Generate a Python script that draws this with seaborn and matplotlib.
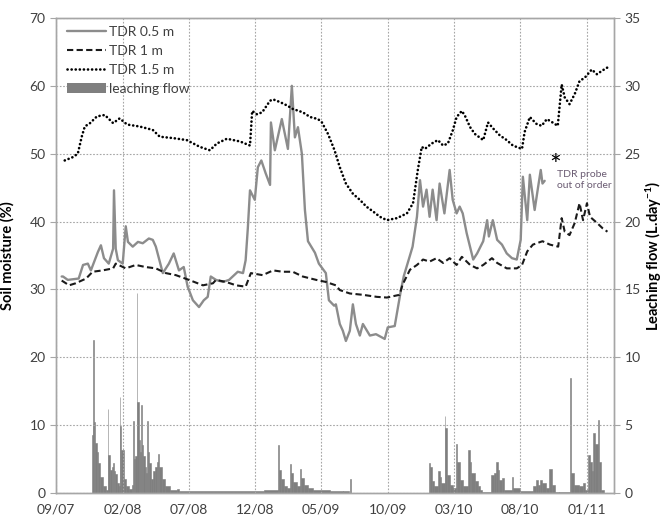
import numpy as np
import pandas as pd
import matplotlib
matplotlib.use('Agg')
import matplotlib.pyplot as plt
import matplotlib.dates as mdates
from matplotlib.lines import Line2D
from matplotlib.patches import Patch
import seaborn as sns

# ---- data ----
# TDR 0.5 m (soil moisture %)
tdr05_dates = ['2007-09-14', '2007-09-17', '2007-09-28', '2007-10-23', '2007-11-02', '2007-11-13',
               '2007-11-20', '2007-12-06', '2007-12-13', '2007-12-20', '2007-12-31', '2008-01-10',
               '2008-01-12', '2008-01-16', '2008-01-21', '2008-02-01', '2008-02-08', '2008-02-13',
               '2008-02-24', '2008-03-07', '2008-03-18', '2008-04-01', '2008-04-10', '2008-04-17',
               '2008-05-03', '2008-05-17', '2008-05-28', '2008-06-09', '2008-06-20', '2008-06-29',
               '2008-07-11', '2008-07-25', '2008-08-05', '2008-08-14', '2008-08-21', '2008-09-02',
               '2008-09-18', '2008-10-02', '2008-10-22', '2008-11-03', '2008-11-09', '2008-11-14',
               '2008-11-19', '2008-11-30', '2008-12-07', '2008-12-15', '2008-12-25', '2009-01-04',
               '2009-01-06', '2009-01-15', '2009-01-31', '2009-02-14', '2009-02-23', '2009-03-02',
               '2009-03-09', '2009-03-18', '2009-03-25', '2009-04-01', '2009-04-17', '2009-04-26',
               '2009-05-12', '2009-05-19', '2009-05-31', '2009-06-04', '2009-06-13', '2009-06-20',
               '2009-06-27', '2009-07-06', '2009-07-13', '2009-07-20', '2009-07-29', '2009-08-05',
               '2009-08-21', '2009-09-04', '2009-09-24', '2009-10-01', '2009-10-17', '2009-10-31',
               '2009-11-07', '2009-11-21', '2009-11-27', '2009-12-07', '2009-12-14', '2009-12-21',
               '2009-12-29', '2010-01-05', '2010-01-12', '2010-01-21', '2010-01-28', '2010-02-08',
               '2010-02-20', '2010-02-27', '2010-03-08', '2010-03-15', '2010-03-22', '2010-03-31',
               '2010-04-15', '2010-04-24', '2010-05-08', '2010-05-17', '2010-05-21', '2010-05-30',
               '2010-06-09', '2010-06-20', '2010-07-01', '2010-07-13', '2010-07-24', '2010-08-02',
               '2010-08-07', '2010-08-17', '2010-08-23', '2010-09-03', '2010-09-10', '2010-09-17',
               '2010-09-21', '2010-09-26']
tdr05_vals = [31.9, 31.9, 31.4, 31.6, 33.6, 33.8,
              32.8, 35.5, 36.5, 34.6, 33.8, 36.0,
              44.6, 36.0, 34.3, 33.8, 39.3, 37.0,
              36.3, 37.0, 36.8, 37.5, 37.3, 36.3,
              32.4, 33.8, 35.3, 32.8, 33.3, 30.4,
              28.4, 27.4, 28.4, 28.9, 31.9, 31.4,
              31.1, 31.4, 32.6, 32.4, 34.3, 39.0,
              44.6, 43.2, 48.0, 49.0, 47.1, 45.4,
              54.6, 50.5, 55.1, 50.7, 60.0, 52.4,
              53.9, 50.0, 41.7, 37.1, 35.4, 33.8,
              32.4, 28.4, 27.6, 27.8, 24.9, 23.9,
              22.4, 23.9, 27.8, 24.9, 23.2, 24.9,
              23.2, 23.4, 22.7, 24.4, 24.6, 29.8,
              32.0, 35.0, 36.3, 40.7, 46.1, 42.2,
              44.7, 40.7, 44.7, 40.2, 45.6, 41.2,
              47.6, 43.2, 41.2, 42.2, 41.2, 38.3,
              34.4, 35.3, 37.1, 40.2, 37.8, 40.2,
              37.3, 36.6, 35.3, 34.6, 34.4, 37.3,
              46.6, 40.2, 46.9, 41.7, 44.7, 47.6,
              45.6, 46.0]

# TDR 1 m
tdr1_dates = ['2007-09-14', '2007-09-19', '2007-10-01', '2007-10-16', '2007-11-09', '2007-11-24',
              '2007-12-17', '2008-01-10', '2008-01-16', '2008-02-08', '2008-03-02', '2008-03-24',
              '2008-04-17', '2008-05-10', '2008-06-02', '2008-07-02', '2008-08-03', '2008-08-26',
              '2008-09-02', '2008-09-25', '2008-10-18', '2008-11-09', '2008-11-21', '2008-12-18',
              '2009-01-11', '2009-02-02', '2009-02-25', '2009-03-20', '2009-04-20', '2009-05-12',
              '2009-06-04', '2009-06-13', '2009-07-06', '2009-08-05', '2009-09-06', '2009-09-29',
              '2009-10-28', '2009-11-04', '2009-11-21', '2009-12-07', '2009-12-21', '2010-01-05',
              '2010-01-21', '2010-02-05', '2010-02-20', '2010-03-08', '2010-03-20', '2010-04-08',
              '2010-04-24', '2010-05-08', '2010-05-28', '2010-06-09', '2010-07-01', '2010-07-24',
              '2010-08-05', '2010-08-17', '2010-08-30', '2010-09-21', '2010-10-08', '2010-10-27',
              '2010-11-04', '2010-11-11', '2010-11-22', '2010-12-04', '2010-12-15', '2010-12-23',
              '2011-01-01', '2011-01-08', '2011-01-24', '2011-02-06', '2011-02-17']
tdr1_vals = [31.3, 31.1, 30.6, 30.9, 31.6, 32.6,
             32.8, 33.1, 33.8, 33.1, 33.6, 33.3,
             33.1, 32.4, 32.1, 31.4, 30.6, 30.9,
             31.4, 31.1, 30.6, 30.4, 32.4, 32.1,
             32.8, 32.6, 32.6, 31.9, 31.4, 31.1,
             30.6, 29.9, 29.4, 29.2, 28.9, 28.8,
             29.2, 30.7, 32.9, 33.6, 34.4, 34.1,
             34.6, 33.9, 34.6, 33.6, 34.8, 33.6,
             33.1, 33.6, 34.6, 33.9, 33.1, 33.1,
             33.6, 35.6, 36.6, 37.1, 36.6, 36.3,
             40.5, 38.5, 38.0, 39.8, 42.7, 40.2,
             42.7, 40.7, 39.8, 39.0, 38.5]

# TDR 1.5 m
tdr15_dates = ['2007-09-21', '2007-10-10', '2007-10-21', '2007-10-30', '2007-11-06', '2007-11-18',
               '2007-12-04', '2007-12-22', '2008-01-10', '2008-01-25', '2008-02-11', '2008-03-11',
               '2008-04-10', '2008-04-26', '2008-05-26', '2008-06-27', '2008-07-27', '2008-08-19',
               '2008-09-04', '2008-09-27', '2008-10-27', '2008-11-19', '2008-11-24', '2008-12-05',
               '2008-12-17', '2009-01-04', '2009-01-11', '2009-01-27', '2009-02-12', '2009-02-25',
               '2009-03-20', '2009-04-06', '2009-04-24', '2009-05-03', '2009-05-17', '2009-06-01',
               '2009-06-13', '2009-06-27', '2009-07-13', '2009-07-29', '2009-08-13', '2009-08-28',
               '2009-09-13', '2009-09-29', '2009-10-22', '2009-11-14', '2009-11-28', '2009-12-09',
               '2009-12-18', '2009-12-25', '2010-01-10', '2010-01-24', '2010-02-05', '2010-02-16',
               '2010-02-27', '2010-03-08', '2010-03-20', '2010-03-27', '2010-04-08', '2010-04-19',
               '2010-05-08', '2010-05-19', '2010-05-31', '2010-06-15', '2010-07-01', '2010-07-15',
               '2010-08-05', '2010-08-11', '2010-08-23', '2010-09-07', '2010-09-19', '2010-10-01',
               '2010-10-14', '2010-10-26', '2010-11-04', '2010-11-11', '2010-11-22', '2010-12-04',
               '2010-12-15', '2010-12-27', '2011-01-12', '2011-01-24', '2011-02-04', '2011-02-17']
tdr15_vals = [49.0, 49.5, 50.0, 52.5, 54.0, 54.5,
              55.5, 55.7, 54.5, 55.2, 54.3, 54.0,
              53.5, 52.5, 52.3, 52.0, 51.0, 50.5,
              51.5, 52.2, 51.8, 51.2, 56.3, 55.8,
              56.1, 57.8, 58.0, 57.6, 57.1, 56.6,
              56.1, 55.4, 55.1, 54.6, 52.9, 50.5,
              48.0, 45.6, 44.1, 43.2, 42.2, 41.5,
              40.7, 40.2, 40.5, 41.2, 42.7, 47.6,
              51.0, 50.7, 51.5, 52.0, 51.2, 51.5,
              53.4, 55.4, 56.3, 55.6, 53.9, 52.9,
              52.0, 54.6, 53.7, 52.7, 52.0, 51.2,
              50.7, 53.2, 55.4, 54.4, 54.1, 55.1,
              54.6, 54.1, 60.2, 58.3, 57.3, 58.8,
              60.7, 61.2, 62.4, 61.7, 62.2, 62.7]

# leaching flow (L.day-1); each value holds until the next date
flow_dates = ['2007-11-21', '2007-11-23', '2007-11-25', '2007-11-26', '2007-11-27', '2007-11-29',
              '2007-12-03', '2007-12-06', '2007-12-10', '2007-12-17', '2007-12-24', '2007-12-29',
              '2007-12-30', '2008-01-02', '2008-01-07', '2008-01-10', '2008-01-12', '2008-01-14',
              '2008-01-19', '2008-01-23', '2008-01-25', '2008-01-26', '2008-01-29', '2008-02-03',
              '2008-02-09', '2008-02-16', '2008-02-22', '2008-02-25', '2008-02-26', '2008-02-29',
              '2008-03-04', '2008-03-05', '2008-03-09', '2008-03-12', '2008-03-15', '2008-03-16',
              '2008-03-19', '2008-03-23', '2008-03-26', '2008-03-28', '2008-03-29', '2008-04-01',
              '2008-04-05', '2008-04-11', '2008-04-16', '2008-04-20', '2008-04-22', '2008-04-24',
              '2008-05-02', '2008-05-08', '2008-05-19', '2008-06-04', '2008-06-08', '2008-12-20',
              '2009-01-23', '2009-01-25', '2009-01-28', '2009-02-04', '2009-02-11', '2009-02-18',
              '2009-02-22', '2009-02-26', '2009-03-06', '2009-03-13', '2009-03-17', '2009-03-22',
              '2009-04-01', '2009-04-12', '2009-05-21', '2009-06-20', '2009-07-03', '2009-07-07',
              '2009-07-08', '2010-01-03', '2010-01-07', '2010-01-11', '2010-01-16', '2010-01-24',
              '2010-01-28', '2010-02-01', '2010-02-09', '2010-02-10', '2010-02-13', '2010-02-20',
              '2010-02-28', '2010-03-06', '2010-03-08', '2010-03-15', '2010-03-23', '2010-04-04',
              '2010-04-07', '2010-04-11', '2010-04-19', '2010-04-26', '2010-04-30', '2010-05-05',
              '2010-05-27', '2010-06-01', '2010-06-07', '2010-06-10', '2010-06-14', '2010-06-21',
              '2010-06-25', '2010-07-14', '2010-07-16', '2010-07-31', '2010-08-30', '2010-09-06',
              '2010-09-10', '2010-09-15', '2010-09-21', '2010-09-28', '2010-10-06', '2010-10-13',
              '2010-10-20', '2010-10-30', '2010-11-24', '2010-11-25', '2010-12-03', '2010-12-14',
              '2010-12-22', '2010-12-27', '2011-01-04', '2011-01-08', '2011-01-12', '2011-01-15',
              '2011-01-19', '2011-01-27', '2011-01-29', '2011-02-02', '2011-02-10']
flow_vals = [0.0, 4.3, 5.1, 11.3, 5.2, 3.7,
             3.0, 2.2, 1.2, 0.5, 0.25, 6.2,
             2.8, 1.7, 1.9, 2.2, 1.6, 1.4,
             0.7, 0.5, 7.1, 4.9, 3.2, 1.0,
             0.5, 0.3, 0.6, 5.3, 2.5, 2.7,
             14.7, 6.7, 3.9, 3.0, 6.5, 3.5,
             2.7, 1.9, 1.5, 5.3, 3.0, 2.2,
             1.0, 1.6, 1.9, 2.3, 2.9, 1.9,
             1.0, 0.5, 0.2, 0.3, 0.12, 0.2,
             3.5, 1.7, 1.0, 0.5, 0.35, 2.1,
             1.5, 0.8, 0.5, 1.8, 1.1, 0.6,
             0.35, 0.2, 0.17, 0.15, 0.0, 1.0,
             0.0, 2.2, 1.95, 0.85, 0.5, 1.6,
             1.2, 0.7, 5.7, 4.8, 1.3, 0.6,
             0.35, 3.6, 2.3, 0.95, 0.5, 3.2,
             2.3, 1.5, 0.85, 0.5, 0.2, 0.08,
             1.3, 1.5, 2.3, 1.7, 0.95, 1.1,
             0.2, 1.2, 0.35, 0.15, 0.5, 0.95,
             0.6, 0.95, 0.7, 0.35, 1.8, 0.6,
             0.1, 0.05, 8.5, 1.45, 0.6, 0.5,
             0.7, 0.2, 2.8, 2.3, 1.6, 4.4,
             3.6, 5.4, 2.3, 0.2, 0.0]

tick_dates = pd.date_range('2007-09-01', '2011-01-01', freq='5MS')

# ---- style ----
sns.set_style('white')
plt.rcParams['font.family'] = ['Lato', 'DejaVu Sans']
plt.rcParams['mathtext.fontset'] = 'custom'
plt.rcParams['mathtext.rm'] = 'Lato:bold'
plt.rcParams['mathtext.it'] = 'Lato:bold'
plt.rcParams['mathtext.bf'] = 'Lato:bold'

GRID = '#a6a6a6'
SPINE = '#a6a6a6'
TXT = '#404040'

fig = plt.figure(figsize=(6.66, 5.22), dpi=100)
ax = fig.add_axes([0.0841, 0.0556, 0.8378, 0.9100])
ax2 = ax.twinx()

# bars on the right axis
fx = mdates.date2num(pd.to_datetime(flow_dates))
fw = np.diff(fx, append=fx[-1] + 1)
ax2.bar(pd.to_datetime(flow_dates), flow_vals, width=fw, align='edge',
        color='#7f7f7f', edgecolor='#7f7f7f', linewidth=0.4, zorder=2)

# moisture lines on the left axis
sns.lineplot(x=pd.to_datetime(tdr05_dates), y=tdr05_vals, ax=ax, color='#8c8c8c',
             linewidth=1.7, sort=False)
sns.lineplot(x=pd.to_datetime(tdr1_dates), y=tdr1_vals, ax=ax, color='#1a1a1a',
             linewidth=1.5, linestyle=(0, (3, 1.6)), sort=False)
sns.lineplot(x=pd.to_datetime(tdr15_dates), y=tdr15_vals, ax=ax, color='#000000',
             linewidth=1.9, linestyle=(0, (0.05, 1.5)), dash_capstyle='round', sort=False)

ax.set_zorder(ax2.get_zorder() + 1)
ax.patch.set_visible(False)

xmin, xmax = pd.Timestamp('2007-09-01'), pd.Timestamp('2011-03-04')
ax.set_xlim(xmin, xmax)
ax.set_ylim(0, 70)
ax2.set_ylim(0, 35)
ax.set_yticks(range(0, 71, 10))
ax2.set_yticks(range(0, 36, 5))
ax.set_xticks(tick_dates)
ax.xaxis.set_major_formatter(mdates.DateFormatter('%m/%y'))

ax.grid(True, which='major', axis='both', color=GRID, linestyle=(0, (1.5, 1.5)), linewidth=0.8)
ax2.grid(False)

for a in (ax, ax2):
    for sp in a.spines.values():
        sp.set_color(SPINE)
        sp.set_linewidth(1.0)
    a.tick_params(axis='both', colors=TXT, labelsize=10, length=4, width=0.8, direction='out')
    a.tick_params(axis='both', color=SPINE)

ax.set_ylabel('Soil moisture (%)', fontsize=10.5, fontweight='bold', color='black')
ax2.set_ylabel(r'Leaching flow (L.day$^{-1}$)', fontsize=10.5, fontweight='bold', color='black',
               rotation=90)
ax.yaxis.set_label_coords(-0.075, 0.5)
ax2.yaxis.set_label_coords(1.054, 0.5)
ax.set_xlabel('')

# out-of-order note
ax.text(pd.Timestamp('2010-10-21'), 48.0, '*', fontsize=20, color='black', ha='center', va='center')
ax.text(pd.Timestamp('2010-10-24'), 46.1, 'TDR probe\nout of order', fontsize=7.5, color='#6a5b72',
        ha='left', va='center', linespacing=1.3)

handles = [Line2D([], [], color='#8c8c8c', linewidth=1.7),
           Line2D([], [], color='#1a1a1a', linewidth=1.5, linestyle=(0, (3, 1.6))),
           Line2D([], [], color='#000000', linewidth=1.9, linestyle=(0, (0.05, 1.5)),
                  dash_capstyle='round'),
           Patch(facecolor='#7f7f7f', edgecolor='none')]
labels = ['TDR 0.5 m', 'TDR 1 m', 'TDR 1.5 m', 'leaching flow']
leg = ax.legend(handles, labels, loc='upper left', bbox_to_anchor=(0.005, 1.0), frameon=False,
                fontsize=10, handlelength=2.8, handletextpad=0.2, labelspacing=0.5,
                borderaxespad=0.2)
for t in leg.get_texts():
    t.set_color(TXT)

fig.savefig('out.png', dpi=100)
